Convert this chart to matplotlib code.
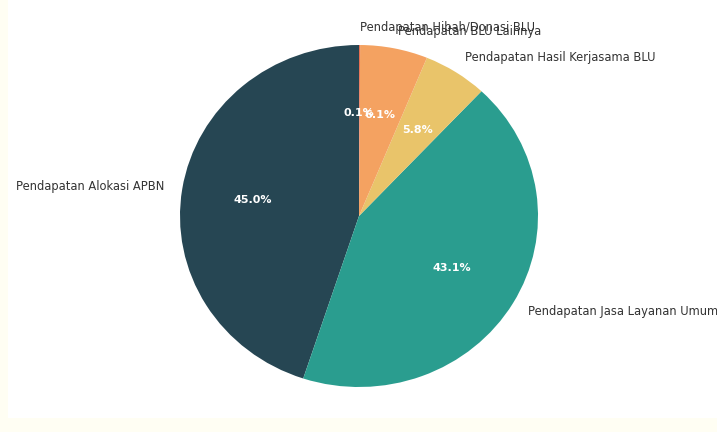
import matplotlib.pyplot as plt
from matplotlib.patches import Rectangle

labels = ['Pendapatan Alokasi APBN', 'Pendapatan Jasa Layanan Umum',
          'Pendapatan Hasil Kerjasama BLU', 'Pendapatan BLU Lainnya',
          'Pendapatan Hibah/Donasi BLU']
values = [45.0, 43.1, 5.8, 6.1, 0.1]
colors = ['#264653', '#2a9d8f', '#e9c46a', '#f4a261', '#e76f51']

fig = plt.figure(figsize=(7.17, 4.32), dpi=100)
fig.patch.set_facecolor('#fffef3')
# white panel inside the cream border
fig.add_artist(Rectangle((8/717, 14/432), 1, 1, transform=fig.transFigure,
                         facecolor='white', edgecolor='none', zorder=-5))

# axes placed so the pie centre / radius match the reference
ax = fig.add_axes([(359-179*1.25)/717, (432-216-171*1.25)/432,
                   179*2.5/717, 171*2.5/432])
ax.set_zorder(2)
ax.pie(values, labels=labels, colors=colors, startangle=90,
       autopct='%1.1f%%', pctdistance=0.6, labeldistance=1.1,
       textprops={'fontsize': 8.3, 'color': '#333333'})
for t in ax.texts:
    if t.get_text().endswith('%'):
        t.set_color('white')
        t.set_fontweight('bold')
        t.set_fontsize(8)
ax.set_aspect('auto')
ax.set_xlim(-1.25, 1.25)
ax.set_ylim(-1.25, 1.25)

fig.savefig('out.png', dpi=100)
